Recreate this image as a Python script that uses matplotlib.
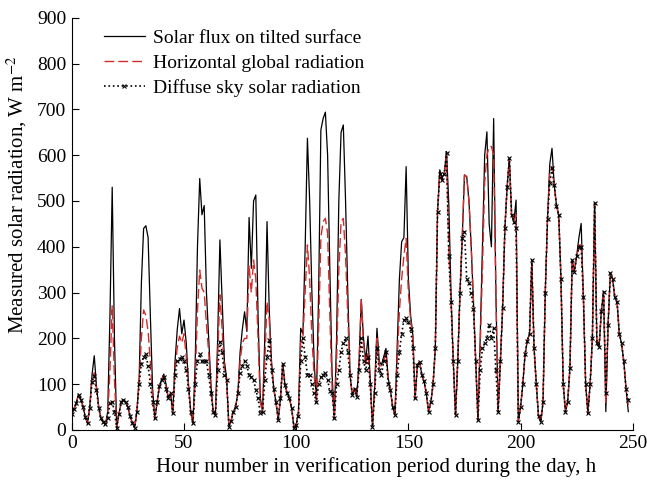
import numpy as np
import matplotlib.pyplot as plt

plt.rcParams['font.family'] = ['Liberation Serif', 'DejaVu Serif']
plt.rcParams['mathtext.fontset'] = 'stix'

# hourly values, hours 0..248
tilted = [
    35, 45, 60, 78, 68, 52, 28, 15, 50, 120,          # 0
    162, 95, 50, 25, 18, 12, 40, 250, 530, 200,       # 10
    5, 35, 60, 66, 60, 50, 30, 15, 5, 40,             # 20
    110, 320, 440, 446, 420, 250, 90, 25, 60, 95,     # 30
    110, 122, 100, 70, 80, 36, 150, 220, 265, 210,    # 40
    240, 190, 100, 40, 15, 150, 400, 549, 470, 490,   # 50
    300, 200, 100, 40, 33, 200, 415, 280, 150, 113,   # 60
    7, 20, 40, 50, 80, 170, 220, 258, 215, 464,       # 70
    353, 500, 513, 250, 70, 40, 200, 455, 260, 150,   # 80
    90, 60, 22, 70, 145, 98, 80, 69, 47, 4,           # 90
    11, 40, 222, 210, 400, 637, 500, 300, 150, 62,    # 100
    300, 655, 680, 694, 600, 350, 120, 25, 200, 500,  # 110
    650, 666, 500, 300, 120, 76, 90, 73, 150, 285,    # 120
    200, 150, 205, 110, 7, 100, 222, 150, 142, 160,   # 130
    178, 113, 87, 50, 33, 178, 330, 411, 420, 575,    # 140
    330, 250, 207, 69, 142, 149, 120, 106, 80, 40,    # 150
    60, 100, 178, 477, 568, 550, 560, 608, 495, 300,  # 160
    150, 33, 150, 300, 420, 557, 553, 500, 400, 280,  # 170
    150, 22, 200, 400, 600, 651, 450, 400, 680, 300,  # 180
    40, 150, 266, 440, 530, 593, 470, 455, 502, 18,   # 190
    50, 100, 165, 195, 210, 371, 180, 100, 30, 18,    # 200
    60, 300, 460, 580, 615, 535, 490, 470, 330, 100,  # 210
    40, 62, 135, 371, 346, 380, 420, 451, 290, 100,   # 220
    36, 100, 200, 495, 190, 182, 260, 302, 40, 229,   # 230
    342, 330, 290, 280, 210, 189, 150, 90, 40,        # 240
]

horizontal = [
    35, 45, 60, 76, 66, 50, 28, 15, 50, 110,
    125, 90, 48, 25, 18, 12, 30, 130, 272, 110,
    5, 35, 60, 66, 60, 50, 30, 15, 5, 40,
    105, 200, 262, 250, 215, 150, 70, 25, 60, 95,
    110, 118, 95, 70, 80, 36, 130, 180, 205, 190,
    210, 160, 95, 40, 15, 110, 260, 349, 310, 300,
    230, 170, 90, 40, 33, 160, 295, 220, 130, 110,
    7, 20, 40, 50, 80, 150, 190, 200, 200, 360,
    300, 371, 330, 200, 60, 40, 150, 280, 240, 140,
    90, 60, 22, 70, 145, 98, 80, 69, 47, 4,
    11, 35, 190, 200, 300, 404, 330, 200, 120, 60,
    220, 420, 455, 462, 430, 250, 90, 25, 150, 350,
    455, 462, 380, 250, 120, 76, 90, 73, 140, 285,
    190, 140, 170, 105, 7, 90, 200, 140, 140, 150,
    170, 110, 87, 50, 33, 150, 260, 330, 380, 418,
    300, 240, 200, 69, 142, 149, 120, 106, 80, 40,
    60, 100, 178, 477, 560, 545, 560, 600, 400, 280,
    150, 33, 150, 300, 420, 557, 553, 500, 400, 280,
    150, 22, 180, 350, 540, 600, 619, 619, 600, 300,
    40, 150, 266, 440, 530, 593, 470, 455, 470, 18,
    50, 100, 165, 195, 210, 371, 180, 100, 30, 18,
    60, 300, 460, 560, 575, 535, 490, 470, 330, 100,
    40, 62, 135, 371, 346, 380, 400, 410, 290, 100,
    36, 100, 200, 495, 190, 182, 260, 302, 60, 229,
    342, 330, 290, 280, 210, 189, 150, 90, 55,
]

diffuse = [
    35, 45, 58, 76, 66, 50, 28, 15, 48, 105,
    118, 88, 48, 25, 18, 12, 25, 58, 62, 40,
    5, 35, 60, 66, 60, 50, 30, 15, 5, 40,
    100, 145, 160, 165, 140, 100, 60, 25, 60, 95,
    108, 115, 90, 70, 80, 36, 120, 150, 155, 160,
    150, 130, 90, 40, 15, 100, 150, 165, 150, 150,
    150, 120, 80, 40, 33, 130, 193, 170, 120, 110,
    7, 20, 40, 50, 80, 125, 140, 150, 140, 120,
    115, 110, 87, 70, 36, 40, 110, 160, 196, 130,
    90, 60, 22, 70, 145, 98, 80, 69, 47, 4,
    11, 30, 150, 200, 160, 120, 120, 100, 80, 60,
    100, 115, 120, 124, 110, 84, 80, 25, 100, 130,
    170, 190, 200, 170, 120, 76, 90, 73, 130, 200,
    150, 130, 160, 100, 7, 80, 180, 130, 120, 150,
    170, 100, 87, 50, 33, 120, 170, 210, 240, 244,
    235, 220, 180, 69, 142, 149, 120, 106, 80, 40,
    60, 100, 178, 477, 560, 545, 560, 605, 380, 280,
    150, 33, 150, 300, 420, 433, 330, 320, 300, 265,
    150, 22, 130, 178, 190, 200, 229, 200, 222, 130,
    40, 150, 266, 440, 530, 593, 470, 455, 440, 18,
    50, 100, 165, 195, 210, 371, 180, 100, 30, 18,
    60, 300, 460, 540, 571, 535, 490, 470, 330, 100,
    40, 62, 135, 371, 346, 380, 400, 400, 290, 100,
    36, 100, 200, 495, 190, 182, 260, 302, 80, 229,
    342, 330, 290, 280, 210, 189, 150, 90, 65,
]

hours = np.arange(len(tilted))

fig = plt.figure(figsize=(6.47, 4.82), dpi=100)
ax = fig.add_axes([0.111, 0.108, 0.867, 0.855])

ax.plot(hours, tilted, color='black', lw=0.9, label='Solar flux on tilted surface')
ax.plot(hours, horizontal, color='#d42a2a', lw=1.0, ls=(0, (7, 3)),
        label='Horizontal global radiation')
ax.plot(hours, diffuse, color='black', lw=1.2, ls=':', marker='x', ms=3,
        mew=0.8, label='Diffuse sky solar radiation')

ax.set_xlim(0, 250)
ax.set_ylim(0, 900)
ax.set_xticks(np.arange(0, 251, 50))
ax.set_yticks(np.arange(0, 901, 100))
ax.tick_params(direction='in', labelsize=14, length=5, pad=4)
for s in ['top', 'right']:
    ax.spines[s].set_visible(False)

ax.set_xlabel('Hour number in verification period during the day, h', fontsize=15)
ax.set_ylabel('Measured solar radiation, W m$^{-2}$', fontsize=15)
ax.xaxis.set_label_coords(0.542, -0.066)
ax.yaxis.set_label_coords(-0.077, 0.57)

ax.legend(loc='upper left', bbox_to_anchor=(0.026, 1.015), frameon=False, fontsize=14,
          handlelength=2.1, handletextpad=0.45, labelspacing=0.38)

fig.savefig('out.png', dpi=100)
